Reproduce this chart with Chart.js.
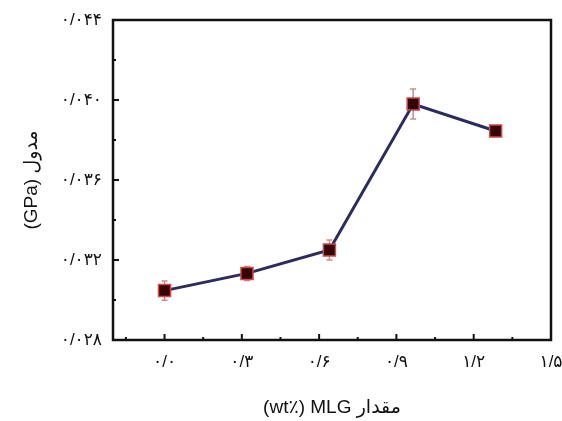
<!DOCTYPE html>
<html>
<head>
<meta charset="utf-8">
<script src="https://cdn.jsdelivr.net/npm/chart.js@4"></script>
<style>
  body { margin: 0; background: #fff; }
  canvas { display: block; }
</style>
</head>
<body>
<canvas id="myChartModul" width="562" height="421"></canvas>
<script>
// data
const mlgContent = [0, 0.32, 0.64, 0.965, 1.285];
const modulus = [0.03047, 0.03133, 0.0325, 0.0398, 0.03845];
const modulusErr = [0.00048, 0.00035, 0.0005, 0.00075, 0.0001];

const xMajor = [0, 0.3, 0.6, 0.9, 1.2, 1.5];
const xMajorLabels = ['۰/۰', '۰/۳', '۰/۶', '۰/۹', '۱/۲', '۱/۵'];
const xMinor = [-0.15, 0.15, 0.45, 0.75, 1.05, 1.35];
const yMajor = [0.028, 0.032, 0.036, 0.040, 0.044];
const yMajorLabels = ['۰/۰۲۸', '۰/۰۳۲', '۰/۰۳۶', '۰/۰۴۰', '۰/۰۴۴'];
const yMinor = [0.030, 0.034, 0.038, 0.042];

const FONT = '"Liberation Sans", "DejaVu Sans", sans-serif';

const labelFor = (v, majors, labels) => {
    const i = majors.findIndex(m => Math.abs(m - v) < 1e-9);
    return i >= 0 ? labels[i] : '';
};

// error bars, behind the markers
const errorBars = {
    id: 'errorBars',
    beforeDatasetsDraw(chart) {
        const {ctx, scales: {x, y}} = chart;
        ctx.save();
        ctx.strokeStyle = '#c98c8c';
        ctx.lineWidth = 1.5;
        mlgContent.forEach((v, i) => {
            const px = x.getPixelForValue(v);
            const top = y.getPixelForValue(modulus[i] + modulusErr[i]);
            const bot = y.getPixelForValue(modulus[i] - modulusErr[i]);
            ctx.beginPath();
            ctx.moveTo(px, top); ctx.lineTo(px, bot);
            ctx.moveTo(px - 3, top); ctx.lineTo(px + 3, top);
            ctx.moveTo(px - 3, bot); ctx.lineTo(px + 3, bot);
            ctx.stroke();
        });
        ctx.restore();
    }
};

// frame + inward tick marks
const frame = {
    id: 'frame',
    afterDraw(chart) {
        const {ctx, chartArea: a, scales: {x, y}} = chart;
        ctx.save();
        ctx.strokeStyle = '#111';
        ctx.lineWidth = 2;
        xMajor.concat(xMinor).forEach(v => {
            const px = x.getPixelForValue(v);
            const len = xMajor.includes(v) ? 6 : 3;
            ctx.beginPath();
            ctx.moveTo(px, a.bottom); ctx.lineTo(px, a.bottom - len);
            ctx.stroke();
        });
        yMajor.concat(yMinor).forEach(v => {
            const py = y.getPixelForValue(v);
            const len = yMajor.includes(v) ? 6 : 3;
            ctx.beginPath();
            ctx.moveTo(a.left, py); ctx.lineTo(a.left + len, py);
            ctx.stroke();
        });
        ctx.lineWidth = 2.5;
        ctx.strokeRect(a.left, a.top, a.right - a.left, a.bottom - a.top);
        ctx.restore();
    }
};

var graficaModul = document.getElementById('myChartModul').getContext('2d');
var chart = new Chart(graficaModul, {
    type: 'line',
    data: {
        datasets: [{
            label: 'مدول',
            data: mlgContent.map((v, i) => ({x: v, y: modulus[i]})),
            borderColor: '#2c2b5e',
            borderWidth: 3,
            pointStyle: 'rect',
            pointRadius: 8.5,
            pointBackgroundColor: '#360406',
            pointBorderColor: '#d04848',
            pointBorderWidth: 1.5,
            tension: 0
        }]
    },
    options: {
        responsive: false,
        animation: false,
        layout: { padding: { top: 20, right: 11, left: 0, bottom: 0 } },
        plugins: { legend: { display: false }, tooltip: { enabled: false } },
        scales: {
            x: {
                type: 'linear',
                min: -0.2,
                max: 1.5,
                afterBuildTicks: s => { s.ticks = xMajor.map(v => ({value: v})); },
                afterFit: s => { s.height = 81; s.paddingLeft = 0; s.paddingRight = 0; },
                grid: { display: false, drawTicks: false },
                border: { display: false },
                ticks: {
                    autoSkip: false,
                    maxRotation: 0,
                    padding: 12,
                    color: '#111',
                    font: { family: FONT, size: 17 },
                    callback: v => labelFor(v, xMajor, xMajorLabels)
                },
                title: {
                    display: true,
                    text: '(wt٪) MLG مقدار',
                    color: '#111',
                    font: { family: FONT, size: 19 },
                    padding: { top: 0, bottom: 2 }
                }
            },
            y: {
                min: 0.028,
                max: 0.044,
                afterBuildTicks: s => { s.ticks = yMajor.map(v => ({value: v})); },
                afterFit: s => { s.width = 113; s.paddingTop = 0; s.paddingBottom = 0; },
                grid: { display: false, drawTicks: false },
                border: { display: false },
                ticks: {
                    autoSkip: false,
                    padding: 11,
                    color: '#111',
                    font: { family: FONT, size: 17 },
                    callback: v => labelFor(v, yMajor, yMajorLabels)
                },
                title: {
                    display: true,
                    text: '(GPa) مدول',
                    color: '#111',
                    font: { family: FONT, size: 19 },
                    padding: { top: 20, bottom: 0 }
                }
            }
        }
    },
    plugins: [errorBars, frame]
});
</script>
</body>
</html>
